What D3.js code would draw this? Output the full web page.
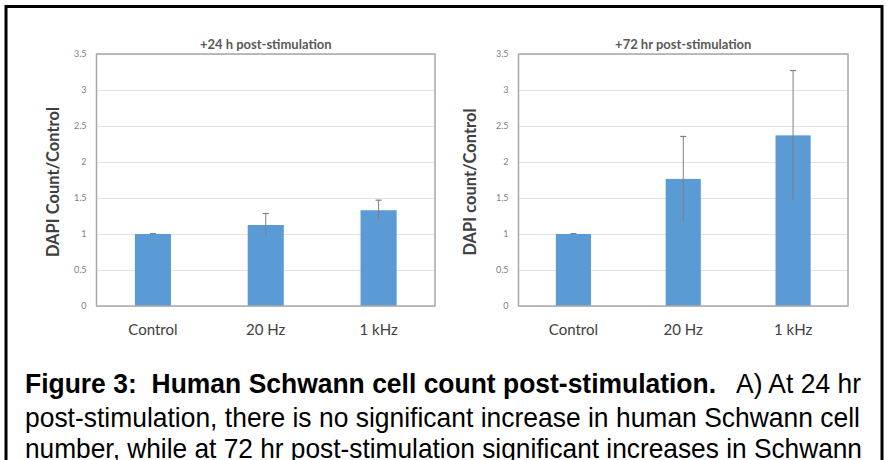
<!DOCTYPE html>
<html>
<head>
<meta charset="utf-8">
<script src="https://cdn.jsdelivr.net/npm/d3@7"></script>
<style>
body { margin: 0; background: #fff; }
svg { display: block; }
</style>
</head>
<body>
<div class="svg-container"></div>
<script>
// chart values
var categories = ["Control", "20 Hz", "1 kHz"];
var values24 = [1.0, 1.125, 1.33];
var errors24 = [0.005, 0.16, 0.14];
var values72 = [1.0, 1.765, 2.37];
var errors72 = [0.005, 0.59, 0.9];
var yTicks = [0, 0.5, 1, 1.5, 2, 2.5, 3, 3.5];
var chartTitles = ["+24 h post-stimulation", "+72 hr post-stimulation"];
var yTitles = ["DAPI Count/Control", "DAPI count/Control"];

var pageWidth = 888,
	pageHeight = 460,
	barColor = "#5b9bd5";

var svg = d3.select(".svg-container")
	.append("svg")
	.attr("width", pageWidth)
	.attr("height", pageHeight);

// outer frame of the figure
svg.append("rect")
	.attr("x", 6)
	.attr("y", 6.5)
	.attr("width", 876)
	.attr("height", 470)
	.attr("fill", "none")
	.attr("stroke", "#000")
	.attr("stroke-width", 3);

drawChart({ left: 96.5, right: 435, top: 54, bottom: 306 }, values24, errors24, chartTitles[0], yTitles[0], 55);
drawChart({ left: 518.5, right: 848, top: 54, bottom: 306 }, values72, errors72, chartTitles[1], yTitles[1], 472);

function drawChart(box, values, errors, title, yTitle, yTitleX) {
	var x = d3.scaleBand().domain(categories).range([box.left, box.right]).paddingInner(0.68).paddingOuter(0.34);
	var y = d3.scaleLinear().domain([0, 3.5]).range([box.bottom, box.top]);

	var g = svg.append("g");

	// gridlines
	g.append("g")
		.attr("transform", "translate(" + box.left + ",0)")
		.call(d3.axisLeft(y).tickValues(yTicks).tickSize(-(box.right - box.left)).tickFormat(""))
		.call(function(a) {
			a.select(".domain").remove();
			a.selectAll("line").attr("stroke", "#e3e3e3").attr("stroke-width", 1);
		});

	// y tick labels
	g.append("g")
		.attr("transform", "translate(" + (box.left - 10) + ",0)")
		.call(d3.axisLeft(y).tickValues(yTicks).tickSize(0).tickPadding(0).tickFormat(d3.format("")))
		.call(function(a) {
			a.select(".domain").remove();
			a.selectAll("text")
				.attr("fill", "#808080")
				.style("font-family", "Lato, sans-serif")
				.style("font-size", "9px");
		});

	// bars
	g.selectAll(".bar").data(values)
		.enter()
		.append("rect")
		.attr("x", function(d, i) { return x(categories[i]); })
		.attr("width", x.bandwidth())
		.attr("y", function(d) { return y(d); })
		.attr("height", function(d) { return y(0) - y(d); })
		.attr("fill", barColor);

	// error bars
	var err = g.selectAll(".err").data(values)
		.enter()
		.append("g")
		.attr("transform", function(d, i) { return "translate(" + (x(categories[i]) + x.bandwidth() / 2) + ",0)"; });

	err.append("line")
		.attr("y1", function(d, i) { return y(d - errors[i]); })
		.attr("y2", function(d, i) { return y(d + errors[i]); })
		.attr("stroke", "#7a7f88")
		.attr("stroke-width", 1);

	err.append("line")
		.attr("x1", -3).attr("x2", 3)
		.attr("y1", function(d, i) { return y(d + errors[i]); })
		.attr("y2", function(d, i) { return y(d + errors[i]); })
		.attr("stroke", "#7a7f88")
		.attr("stroke-width", 1.2);

	// plot area border
	g.append("rect")
		.attr("x", box.left)
		.attr("y", box.top)
		.attr("width", box.right - box.left)
		.attr("height", box.bottom - box.top)
		.attr("fill", "none")
		.attr("stroke", "#a8a8a8")
		.attr("stroke-width", 1.5);

	// category labels
	g.append("g")
		.attr("transform", "translate(0," + box.bottom + ")")
		.call(d3.axisBottom(x).tickSize(0).tickPadding(18))
		.call(function(a) {
			a.select(".domain").remove();
			a.selectAll("text")
				.attr("fill", "#404040")
				.style("font-family", "Lato, sans-serif")
				.style("font-size", "15px");
		});

	g.append("text")
		.attr("x", (box.left + box.right) / 2)
		.attr("y", 49)
		.attr("text-anchor", "middle")
		.attr("fill", "#595959")
		.style("font-family", "Lato, sans-serif")
		.style("font-size", "13px")
		.style("font-weight", "bold")
		.text(title);

	g.append("text")
		.attr("transform", "translate(" + yTitleX + "," + 182 + ") rotate(-90)")
		.attr("text-anchor", "middle")
		.attr("dominant-baseline", "middle")
		.attr("fill", "#404040")
		.style("font-family", "Lato, sans-serif")
		.style("font-size", "16.5px")
		.style("font-weight", "bold")
		.text(yTitle);
}

// caption below the charts: a justified paragraph, squeezed sideways
var captionLines = [
	{ text: "Figure 3:  Human Schwann cell count post-stimulation.", x: 25, end: 716, y: 393, bold: true },
	{ text: "A) At 24 hr", x: 736, end: 861, y: 393, bold: false },
	{ text: "post-stimulation, there is no significant increase in human Schwann cell", x: 25, end: 860, y: 427, bold: false },
	{ text: "number, while at 72 hr post-stimulation significant increases in Schwann", x: 25, end: 862, y: 458, bold: false }
];

var caption = svg.append("g")
	.style("font-family", "'Liberation Sans', Arial, sans-serif")
	.style("font-size", "28px")
	.attr("fill", "#000");

var texts = caption.selectAll("text").data(captionLines)
	.enter()
	.append("text")
	.attr("y", function(d) { return d.y; })
	.style("font-weight", function(d) { return d.bold ? "bold" : "normal"; })
	.style("white-space", "pre")
	.text(function(d) { return d.text; });

// squeeze factor from the full second line, then spread words to justify
var sx = (captionLines[2].end - captionLines[2].x) / texts.nodes()[2].getComputedTextLength();
caption.attr("transform", "scale(" + sx + ",1)");

texts.each(function(d) {
	var node = d3.select(this);
	var target = (d.end - d.x) / sx;
	var natural = this.getComputedTextLength();
	var spaces = d.text.split(" ").length - 1;
	node.attr("x", d.x / sx);
	if (natural > target) {
		// too wide: squeeze the glyphs themselves
		node.attr("textLength", target).attr("lengthAdjust", "spacingAndGlyphs");
	} else {
		node.style("word-spacing", ((target - natural) / Math.max(spaces, 1)) + "px");
	}
});
</script>
</body>
</html>
